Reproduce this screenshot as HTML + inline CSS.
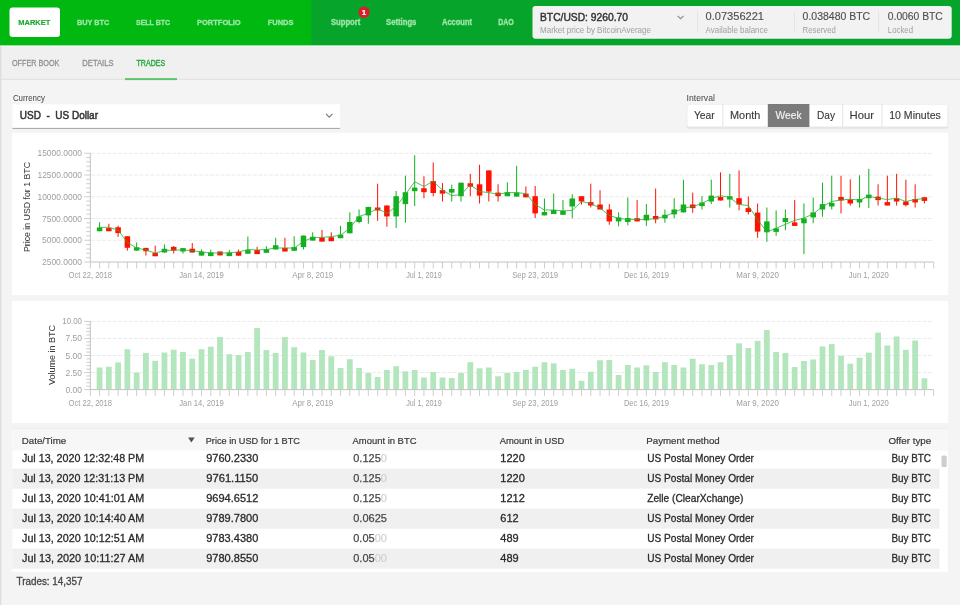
<!DOCTYPE html>
<html><head><meta charset="utf-8"><title>Bisq - Trades</title>
<style>html,body{margin:0;padding:0;background:#f4f4f4;overflow:hidden;} svg{display:block;will-change:transform;} text{font-family:"Liberation Sans", sans-serif;}</style>
</head><body>
<svg width="960" height="605" viewBox="0 0 960 605" font-family='"Liberation Sans", sans-serif'><rect x="0.00" y="0.00" width="960.00" height="605.00" fill="#f4f4f4"/>
<rect x="0.00" y="46.00" width="960.00" height="33.00" fill="#f0f0f0"/>
<rect x="0.00" y="45.00" width="1.30" height="560.00" fill="#dcdcdc"/>
<rect x="0.00" y="0.00" width="960.00" height="45.50" fill="#0db11b"/>
<rect x="0.00" y="0.00" width="311.50" height="45.50" fill="#01b811"/>
<rect x="311.50" y="0.00" width="648.50" height="45.50" fill="#06a42a"/>
<rect x="0.00" y="45.50" width="960.00" height="1.00" fill="#f4fbf4"/>
<rect x="9.5" y="7.5" width="50.5" height="29.5" rx="3" fill="#ffffff"/>
<text x="18.30" y="24.90" font-size="8.0" fill="#18a82c" font-weight="bold" textLength="32.0" lengthAdjust="spacingAndGlyphs" stroke="#18a82c" stroke-width="0.15">MARKET</text>
<text x="77.00" y="24.90" font-size="8.0" fill="#9de6a6" font-weight="bold" textLength="32.3" lengthAdjust="spacingAndGlyphs" stroke="#9de6a6" stroke-width="0.3">BUY BTC</text>
<text x="136.00" y="24.90" font-size="8.0" fill="#9de6a6" font-weight="bold" textLength="34.1" lengthAdjust="spacingAndGlyphs" stroke="#9de6a6" stroke-width="0.3">SELL BTC</text>
<text x="197.00" y="24.90" font-size="8.0" fill="#9de6a6" font-weight="bold" textLength="43.7" lengthAdjust="spacingAndGlyphs" stroke="#9de6a6" stroke-width="0.3">PORTFOLIO</text>
<text x="267.70" y="24.90" font-size="8.0" fill="#9de6a6" font-weight="bold" textLength="25.7" lengthAdjust="spacingAndGlyphs" stroke="#9de6a6" stroke-width="0.3">FUNDS</text>
<text x="331.00" y="25.00" font-size="8.3" fill="#9de6a6" font-weight="bold" textLength="29.3" lengthAdjust="spacingAndGlyphs" stroke="#9de6a6" stroke-width="0.3">Support</text>
<text x="386.00" y="25.00" font-size="8.3" fill="#9de6a6" font-weight="bold" textLength="30.4" lengthAdjust="spacingAndGlyphs" stroke="#9de6a6" stroke-width="0.3">Settings</text>
<text x="442.00" y="25.00" font-size="8.3" fill="#9de6a6" font-weight="bold" textLength="30.0" lengthAdjust="spacingAndGlyphs" stroke="#9de6a6" stroke-width="0.3">Account</text>
<text x="498.20" y="25.00" font-size="8.3" fill="#9de6a6" font-weight="bold" textLength="15.5" lengthAdjust="spacingAndGlyphs" stroke="#9de6a6" stroke-width="0.3">DAO</text>
<circle cx="364" cy="12.3" r="5.7" fill="#d8202c"/>
<text x="364.00" y="15.20" font-size="8" fill="#ffffff" font-weight="bold" text-anchor="middle" stroke="#ffffff" stroke-width="0.2">1</text>
<rect x="532.5" y="6" width="419.2" height="32.8" rx="3" fill="#eef6ef"/>
<rect x="533.3" y="6.8" width="417.6" height="31.2" rx="2.5" fill="#f2f2f2"/>
<text x="540.00" y="20.80" font-size="11.5" fill="#333333" textLength="88.0" lengthAdjust="spacingAndGlyphs" stroke="#333333" stroke-width="0.45">BTC/USD: 9260.70</text>
<text x="540.00" y="32.80" font-size="8.7" fill="#a0a0a0" textLength="111.0" lengthAdjust="spacingAndGlyphs">Market price by BitcoinAverage</text>
<path d="M677.6 15.9 L680.6 18.7 L683.6 15.9" fill="none" stroke="#8a8a8a" stroke-width="1.1"/>
<rect x="697.30" y="11.30" width="0.80" height="20.60" fill="#e0e0e0"/>
<text x="705.60" y="20.40" font-size="11.2" fill="#505050" textLength="58.4" lengthAdjust="spacingAndGlyphs" stroke="#505050" stroke-width="0.15">0.07356221</text>
<text x="705.60" y="32.80" font-size="8.7" fill="#a0a0a0" textLength="62.4" lengthAdjust="spacingAndGlyphs">Available balance</text>
<rect x="794.00" y="11.30" width="0.80" height="20.60" fill="#e0e0e0"/>
<text x="802.60" y="20.40" font-size="11.2" fill="#505050" textLength="67.6" lengthAdjust="spacingAndGlyphs" stroke="#505050" stroke-width="0.15">0.038480 BTC</text>
<text x="802.60" y="32.80" font-size="8.7" fill="#a0a0a0" textLength="33.2" lengthAdjust="spacingAndGlyphs">Reserved</text>
<rect x="878.30" y="11.30" width="0.80" height="20.60" fill="#e0e0e0"/>
<text x="887.80" y="20.40" font-size="11.2" fill="#505050" textLength="55.0" lengthAdjust="spacingAndGlyphs" stroke="#505050" stroke-width="0.15">0.0060 BTC</text>
<text x="887.80" y="32.80" font-size="8.7" fill="#a0a0a0" textLength="25.2" lengthAdjust="spacingAndGlyphs">Locked</text>
<rect x="1.30" y="78.80" width="960.00" height="1.00" fill="#dfdfdf"/>
<text x="11.90" y="66.25" font-size="9.6" fill="#8f8f8f" textLength="47.5" lengthAdjust="spacingAndGlyphs" stroke="#8f8f8f" stroke-width="0.3">OFFER BOOK</text>
<text x="82.30" y="66.25" font-size="9.6" fill="#8f8f8f" textLength="31.2" lengthAdjust="spacingAndGlyphs" stroke="#8f8f8f" stroke-width="0.3">DETAILS</text>
<text x="136.50" y="66.25" font-size="9.6" fill="#23a83c" textLength="28.7" lengthAdjust="spacingAndGlyphs" stroke="#23a83c" stroke-width="0.4">TRADES</text>
<rect x="125.00" y="78.10" width="52.00" height="2.00" fill="#5cc56d"/>
<text x="12.90" y="101.25" font-size="9" fill="#505050" textLength="32.0" lengthAdjust="spacingAndGlyphs" stroke="#505050" stroke-width="0.05">Currency</text>
<rect x="12.50" y="104.40" width="327.50" height="23.60" fill="#ffffff"/>
<rect x="12.50" y="127.90" width="327.50" height="1.00" fill="#a4a4a4"/>
<text x="19.80" y="119.30" font-size="10.9" fill="#333333" textLength="78.2" lengthAdjust="spacingAndGlyphs" stroke="#333333" stroke-width="0.5">USD&#160;&#160;-&#160;&#160;US Dollar</text>
<path d="M326 113.9 L329.25 117.1 L332.5 113.9" fill="none" stroke="#7a7a7a" stroke-width="1.15"/>
<text x="686.60" y="100.80" font-size="9" fill="#505050" textLength="28.3" lengthAdjust="spacingAndGlyphs" stroke="#505050" stroke-width="0.05">Interval</text>
<rect x="686.3" y="104.3" width="262" height="24.5" rx="2.5" fill="#e4e4e4"/>
<rect x="686.6" y="104" width="261.4" height="23" rx="2.5" fill="#ffffff"/>
<rect x="687" y="104.4" width="260.6" height="22.4" rx="2.3" fill="none" stroke="#ebebeb" stroke-width="0.8"/>
<rect x="722.30" y="104.00" width="1.00" height="23.00" fill="#e4e4e4"/>
<rect x="842.20" y="104.00" width="1.00" height="23.00" fill="#e4e4e4"/>
<rect x="881.50" y="104.00" width="1.00" height="23.00" fill="#e4e4e4"/>
<rect x="767.80" y="104.00" width="41.60" height="23.00" fill="#7b7b7b"/>
<text x="693.90" y="118.80" font-size="10.2" fill="#3a3a3a" textLength="20.8" lengthAdjust="spacingAndGlyphs" stroke="#3a3a3a" stroke-width="0.12">Year</text>
<text x="730.00" y="118.80" font-size="10.2" fill="#3a3a3a" textLength="30.3" lengthAdjust="spacingAndGlyphs" stroke="#3a3a3a" stroke-width="0.12">Month</text>
<text x="775.50" y="118.80" font-size="10.2" fill="#f4f4f4" textLength="26.0" lengthAdjust="spacingAndGlyphs" stroke="#f4f4f4" stroke-width="0.15">Week</text>
<text x="817.00" y="118.80" font-size="10.2" fill="#3a3a3a" textLength="18.0" lengthAdjust="spacingAndGlyphs" stroke="#3a3a3a" stroke-width="0.12">Day</text>
<text x="849.50" y="118.80" font-size="10.2" fill="#3a3a3a" textLength="24.5" lengthAdjust="spacingAndGlyphs" stroke="#3a3a3a" stroke-width="0.12">Hour</text>
<text x="889.20" y="118.80" font-size="10.2" fill="#3a3a3a" textLength="51.6" lengthAdjust="spacingAndGlyphs" stroke="#3a3a3a" stroke-width="0.12">10 Minutes</text>
<rect x="12.00" y="132.80" width="936.20" height="162.40" fill="#ffffff"/>
<line x1="91" y1="153.3" x2="933" y2="153.3" stroke="#ececec" stroke-width="1" stroke-dasharray="4 1.4"/>
<line x1="91" y1="175.05" x2="933" y2="175.05" stroke="#ececec" stroke-width="1" stroke-dasharray="4 1.4"/>
<line x1="91" y1="196.8" x2="933" y2="196.8" stroke="#ececec" stroke-width="1" stroke-dasharray="4 1.4"/>
<line x1="91" y1="218.55" x2="933" y2="218.55" stroke="#ececec" stroke-width="1" stroke-dasharray="4 1.4"/>
<line x1="91" y1="240.3" x2="933" y2="240.3" stroke="#ececec" stroke-width="1" stroke-dasharray="4 1.4"/>
<line x1="90.3" y1="153" x2="90.3" y2="262" stroke="#c2c2c2" stroke-width="1"/>
<line x1="90.3" y1="262" x2="933.7" y2="262" stroke="#c2c2c2" stroke-width="1"/>
<line x1="84.3" y1="262.00" x2="90.3" y2="262.00" stroke="#c2c2c2" stroke-width="0.8"/>
<line x1="86.3" y1="257.65" x2="90.3" y2="257.65" stroke="#c2c2c2" stroke-width="0.8"/>
<line x1="86.3" y1="253.30" x2="90.3" y2="253.30" stroke="#c2c2c2" stroke-width="0.8"/>
<line x1="86.3" y1="248.95" x2="90.3" y2="248.95" stroke="#c2c2c2" stroke-width="0.8"/>
<line x1="86.3" y1="244.60" x2="90.3" y2="244.60" stroke="#c2c2c2" stroke-width="0.8"/>
<line x1="84.3" y1="240.25" x2="90.3" y2="240.25" stroke="#c2c2c2" stroke-width="0.8"/>
<line x1="86.3" y1="235.90" x2="90.3" y2="235.90" stroke="#c2c2c2" stroke-width="0.8"/>
<line x1="86.3" y1="231.55" x2="90.3" y2="231.55" stroke="#c2c2c2" stroke-width="0.8"/>
<line x1="86.3" y1="227.20" x2="90.3" y2="227.20" stroke="#c2c2c2" stroke-width="0.8"/>
<line x1="86.3" y1="222.85" x2="90.3" y2="222.85" stroke="#c2c2c2" stroke-width="0.8"/>
<line x1="84.3" y1="218.50" x2="90.3" y2="218.50" stroke="#c2c2c2" stroke-width="0.8"/>
<line x1="86.3" y1="214.15" x2="90.3" y2="214.15" stroke="#c2c2c2" stroke-width="0.8"/>
<line x1="86.3" y1="209.80" x2="90.3" y2="209.80" stroke="#c2c2c2" stroke-width="0.8"/>
<line x1="86.3" y1="205.45" x2="90.3" y2="205.45" stroke="#c2c2c2" stroke-width="0.8"/>
<line x1="86.3" y1="201.10" x2="90.3" y2="201.10" stroke="#c2c2c2" stroke-width="0.8"/>
<line x1="84.3" y1="196.75" x2="90.3" y2="196.75" stroke="#c2c2c2" stroke-width="0.8"/>
<line x1="86.3" y1="192.40" x2="90.3" y2="192.40" stroke="#c2c2c2" stroke-width="0.8"/>
<line x1="86.3" y1="188.05" x2="90.3" y2="188.05" stroke="#c2c2c2" stroke-width="0.8"/>
<line x1="86.3" y1="183.70" x2="90.3" y2="183.70" stroke="#c2c2c2" stroke-width="0.8"/>
<line x1="86.3" y1="179.35" x2="90.3" y2="179.35" stroke="#c2c2c2" stroke-width="0.8"/>
<line x1="84.3" y1="175.00" x2="90.3" y2="175.00" stroke="#c2c2c2" stroke-width="0.8"/>
<line x1="86.3" y1="170.65" x2="90.3" y2="170.65" stroke="#c2c2c2" stroke-width="0.8"/>
<line x1="86.3" y1="166.30" x2="90.3" y2="166.30" stroke="#c2c2c2" stroke-width="0.8"/>
<line x1="86.3" y1="161.95" x2="90.3" y2="161.95" stroke="#c2c2c2" stroke-width="0.8"/>
<line x1="86.3" y1="157.60" x2="90.3" y2="157.60" stroke="#c2c2c2" stroke-width="0.8"/>
<line x1="84.3" y1="153.25" x2="90.3" y2="153.25" stroke="#c2c2c2" stroke-width="0.8"/>
<line x1="90.30" y1="262" x2="90.30" y2="268.5" stroke="#c2c2c2" stroke-width="0.8"/>
<line x1="99.57" y1="262" x2="99.57" y2="268.5" stroke="#c2c2c2" stroke-width="0.8"/>
<line x1="108.84" y1="262" x2="108.84" y2="268.5" stroke="#c2c2c2" stroke-width="0.8"/>
<line x1="118.10" y1="262" x2="118.10" y2="268.5" stroke="#c2c2c2" stroke-width="0.8"/>
<line x1="127.37" y1="262" x2="127.37" y2="268.5" stroke="#c2c2c2" stroke-width="0.8"/>
<line x1="136.64" y1="262" x2="136.64" y2="268.5" stroke="#c2c2c2" stroke-width="0.8"/>
<line x1="145.91" y1="262" x2="145.91" y2="268.5" stroke="#c2c2c2" stroke-width="0.8"/>
<line x1="155.18" y1="262" x2="155.18" y2="268.5" stroke="#c2c2c2" stroke-width="0.8"/>
<line x1="164.44" y1="262" x2="164.44" y2="268.5" stroke="#c2c2c2" stroke-width="0.8"/>
<line x1="173.71" y1="262" x2="173.71" y2="268.5" stroke="#c2c2c2" stroke-width="0.8"/>
<line x1="182.98" y1="262" x2="182.98" y2="268.5" stroke="#c2c2c2" stroke-width="0.8"/>
<line x1="192.25" y1="262" x2="192.25" y2="268.5" stroke="#c2c2c2" stroke-width="0.8"/>
<line x1="201.52" y1="262" x2="201.52" y2="268.5" stroke="#c2c2c2" stroke-width="0.8"/>
<line x1="210.78" y1="262" x2="210.78" y2="268.5" stroke="#c2c2c2" stroke-width="0.8"/>
<line x1="220.05" y1="262" x2="220.05" y2="268.5" stroke="#c2c2c2" stroke-width="0.8"/>
<line x1="229.32" y1="262" x2="229.32" y2="268.5" stroke="#c2c2c2" stroke-width="0.8"/>
<line x1="238.59" y1="262" x2="238.59" y2="268.5" stroke="#c2c2c2" stroke-width="0.8"/>
<line x1="247.86" y1="262" x2="247.86" y2="268.5" stroke="#c2c2c2" stroke-width="0.8"/>
<line x1="257.12" y1="262" x2="257.12" y2="268.5" stroke="#c2c2c2" stroke-width="0.8"/>
<line x1="266.39" y1="262" x2="266.39" y2="268.5" stroke="#c2c2c2" stroke-width="0.8"/>
<line x1="275.66" y1="262" x2="275.66" y2="268.5" stroke="#c2c2c2" stroke-width="0.8"/>
<line x1="284.93" y1="262" x2="284.93" y2="268.5" stroke="#c2c2c2" stroke-width="0.8"/>
<line x1="294.20" y1="262" x2="294.20" y2="268.5" stroke="#c2c2c2" stroke-width="0.8"/>
<line x1="303.46" y1="262" x2="303.46" y2="268.5" stroke="#c2c2c2" stroke-width="0.8"/>
<line x1="312.73" y1="262" x2="312.73" y2="268.5" stroke="#c2c2c2" stroke-width="0.8"/>
<line x1="322.00" y1="262" x2="322.00" y2="268.5" stroke="#c2c2c2" stroke-width="0.8"/>
<line x1="331.27" y1="262" x2="331.27" y2="268.5" stroke="#c2c2c2" stroke-width="0.8"/>
<line x1="340.54" y1="262" x2="340.54" y2="268.5" stroke="#c2c2c2" stroke-width="0.8"/>
<line x1="349.80" y1="262" x2="349.80" y2="268.5" stroke="#c2c2c2" stroke-width="0.8"/>
<line x1="359.07" y1="262" x2="359.07" y2="268.5" stroke="#c2c2c2" stroke-width="0.8"/>
<line x1="368.34" y1="262" x2="368.34" y2="268.5" stroke="#c2c2c2" stroke-width="0.8"/>
<line x1="377.61" y1="262" x2="377.61" y2="268.5" stroke="#c2c2c2" stroke-width="0.8"/>
<line x1="386.88" y1="262" x2="386.88" y2="268.5" stroke="#c2c2c2" stroke-width="0.8"/>
<line x1="396.14" y1="262" x2="396.14" y2="268.5" stroke="#c2c2c2" stroke-width="0.8"/>
<line x1="405.41" y1="262" x2="405.41" y2="268.5" stroke="#c2c2c2" stroke-width="0.8"/>
<line x1="414.68" y1="262" x2="414.68" y2="268.5" stroke="#c2c2c2" stroke-width="0.8"/>
<line x1="423.95" y1="262" x2="423.95" y2="268.5" stroke="#c2c2c2" stroke-width="0.8"/>
<line x1="433.22" y1="262" x2="433.22" y2="268.5" stroke="#c2c2c2" stroke-width="0.8"/>
<line x1="442.48" y1="262" x2="442.48" y2="268.5" stroke="#c2c2c2" stroke-width="0.8"/>
<line x1="451.75" y1="262" x2="451.75" y2="268.5" stroke="#c2c2c2" stroke-width="0.8"/>
<line x1="461.02" y1="262" x2="461.02" y2="268.5" stroke="#c2c2c2" stroke-width="0.8"/>
<line x1="470.29" y1="262" x2="470.29" y2="268.5" stroke="#c2c2c2" stroke-width="0.8"/>
<line x1="479.56" y1="262" x2="479.56" y2="268.5" stroke="#c2c2c2" stroke-width="0.8"/>
<line x1="488.82" y1="262" x2="488.82" y2="268.5" stroke="#c2c2c2" stroke-width="0.8"/>
<line x1="498.09" y1="262" x2="498.09" y2="268.5" stroke="#c2c2c2" stroke-width="0.8"/>
<line x1="507.36" y1="262" x2="507.36" y2="268.5" stroke="#c2c2c2" stroke-width="0.8"/>
<line x1="516.63" y1="262" x2="516.63" y2="268.5" stroke="#c2c2c2" stroke-width="0.8"/>
<line x1="525.90" y1="262" x2="525.90" y2="268.5" stroke="#c2c2c2" stroke-width="0.8"/>
<line x1="535.16" y1="262" x2="535.16" y2="268.5" stroke="#c2c2c2" stroke-width="0.8"/>
<line x1="544.43" y1="262" x2="544.43" y2="268.5" stroke="#c2c2c2" stroke-width="0.8"/>
<line x1="553.70" y1="262" x2="553.70" y2="268.5" stroke="#c2c2c2" stroke-width="0.8"/>
<line x1="562.97" y1="262" x2="562.97" y2="268.5" stroke="#c2c2c2" stroke-width="0.8"/>
<line x1="572.24" y1="262" x2="572.24" y2="268.5" stroke="#c2c2c2" stroke-width="0.8"/>
<line x1="581.50" y1="262" x2="581.50" y2="268.5" stroke="#c2c2c2" stroke-width="0.8"/>
<line x1="590.77" y1="262" x2="590.77" y2="268.5" stroke="#c2c2c2" stroke-width="0.8"/>
<line x1="600.04" y1="262" x2="600.04" y2="268.5" stroke="#c2c2c2" stroke-width="0.8"/>
<line x1="609.31" y1="262" x2="609.31" y2="268.5" stroke="#c2c2c2" stroke-width="0.8"/>
<line x1="618.58" y1="262" x2="618.58" y2="268.5" stroke="#c2c2c2" stroke-width="0.8"/>
<line x1="627.84" y1="262" x2="627.84" y2="268.5" stroke="#c2c2c2" stroke-width="0.8"/>
<line x1="637.11" y1="262" x2="637.11" y2="268.5" stroke="#c2c2c2" stroke-width="0.8"/>
<line x1="646.38" y1="262" x2="646.38" y2="268.5" stroke="#c2c2c2" stroke-width="0.8"/>
<line x1="655.65" y1="262" x2="655.65" y2="268.5" stroke="#c2c2c2" stroke-width="0.8"/>
<line x1="664.92" y1="262" x2="664.92" y2="268.5" stroke="#c2c2c2" stroke-width="0.8"/>
<line x1="674.18" y1="262" x2="674.18" y2="268.5" stroke="#c2c2c2" stroke-width="0.8"/>
<line x1="683.45" y1="262" x2="683.45" y2="268.5" stroke="#c2c2c2" stroke-width="0.8"/>
<line x1="692.72" y1="262" x2="692.72" y2="268.5" stroke="#c2c2c2" stroke-width="0.8"/>
<line x1="701.99" y1="262" x2="701.99" y2="268.5" stroke="#c2c2c2" stroke-width="0.8"/>
<line x1="711.26" y1="262" x2="711.26" y2="268.5" stroke="#c2c2c2" stroke-width="0.8"/>
<line x1="720.52" y1="262" x2="720.52" y2="268.5" stroke="#c2c2c2" stroke-width="0.8"/>
<line x1="729.79" y1="262" x2="729.79" y2="268.5" stroke="#c2c2c2" stroke-width="0.8"/>
<line x1="739.06" y1="262" x2="739.06" y2="268.5" stroke="#c2c2c2" stroke-width="0.8"/>
<line x1="748.33" y1="262" x2="748.33" y2="268.5" stroke="#c2c2c2" stroke-width="0.8"/>
<line x1="757.60" y1="262" x2="757.60" y2="268.5" stroke="#c2c2c2" stroke-width="0.8"/>
<line x1="766.86" y1="262" x2="766.86" y2="268.5" stroke="#c2c2c2" stroke-width="0.8"/>
<line x1="776.13" y1="262" x2="776.13" y2="268.5" stroke="#c2c2c2" stroke-width="0.8"/>
<line x1="785.40" y1="262" x2="785.40" y2="268.5" stroke="#c2c2c2" stroke-width="0.8"/>
<line x1="794.67" y1="262" x2="794.67" y2="268.5" stroke="#c2c2c2" stroke-width="0.8"/>
<line x1="803.94" y1="262" x2="803.94" y2="268.5" stroke="#c2c2c2" stroke-width="0.8"/>
<line x1="813.20" y1="262" x2="813.20" y2="268.5" stroke="#c2c2c2" stroke-width="0.8"/>
<line x1="822.47" y1="262" x2="822.47" y2="268.5" stroke="#c2c2c2" stroke-width="0.8"/>
<line x1="831.74" y1="262" x2="831.74" y2="268.5" stroke="#c2c2c2" stroke-width="0.8"/>
<line x1="841.01" y1="262" x2="841.01" y2="268.5" stroke="#c2c2c2" stroke-width="0.8"/>
<line x1="850.28" y1="262" x2="850.28" y2="268.5" stroke="#c2c2c2" stroke-width="0.8"/>
<line x1="859.54" y1="262" x2="859.54" y2="268.5" stroke="#c2c2c2" stroke-width="0.8"/>
<line x1="868.81" y1="262" x2="868.81" y2="268.5" stroke="#c2c2c2" stroke-width="0.8"/>
<line x1="878.08" y1="262" x2="878.08" y2="268.5" stroke="#c2c2c2" stroke-width="0.8"/>
<line x1="887.35" y1="262" x2="887.35" y2="268.5" stroke="#c2c2c2" stroke-width="0.8"/>
<line x1="896.62" y1="262" x2="896.62" y2="268.5" stroke="#c2c2c2" stroke-width="0.8"/>
<line x1="905.88" y1="262" x2="905.88" y2="268.5" stroke="#c2c2c2" stroke-width="0.8"/>
<line x1="915.15" y1="262" x2="915.15" y2="268.5" stroke="#c2c2c2" stroke-width="0.8"/>
<line x1="924.42" y1="262" x2="924.42" y2="268.5" stroke="#c2c2c2" stroke-width="0.8"/>
<line x1="933.69" y1="262" x2="933.69" y2="268.5" stroke="#c2c2c2" stroke-width="0.8"/>
<text x="82.00" y="265.00" font-size="8.6" fill="#9e9e9e" textLength="40.0" lengthAdjust="spacingAndGlyphs" text-anchor="end">2500.0000</text>
<text x="82.00" y="243.25" font-size="8.6" fill="#9e9e9e" textLength="40.0" lengthAdjust="spacingAndGlyphs" text-anchor="end">5000.0000</text>
<text x="82.00" y="221.50" font-size="8.6" fill="#9e9e9e" textLength="40.0" lengthAdjust="spacingAndGlyphs" text-anchor="end">7500.0000</text>
<text x="82.00" y="199.75" font-size="8.6" fill="#9e9e9e" textLength="44.5" lengthAdjust="spacingAndGlyphs" text-anchor="end">10000.0000</text>
<text x="82.00" y="178.00" font-size="8.6" fill="#9e9e9e" textLength="44.5" lengthAdjust="spacingAndGlyphs" text-anchor="end">12500.0000</text>
<text x="82.00" y="156.25" font-size="8.6" fill="#9e9e9e" textLength="44.5" lengthAdjust="spacingAndGlyphs" text-anchor="end">15000.0000</text>
<text x="90.30" y="277.90" font-size="8.6" fill="#a0a0a0" textLength="43.4" lengthAdjust="spacingAndGlyphs" text-anchor="middle">Oct 22, 2018</text>
<text x="201.52" y="277.90" font-size="8.6" fill="#a0a0a0" textLength="44.5" lengthAdjust="spacingAndGlyphs" text-anchor="middle">Jan 14, 2019</text>
<text x="312.73" y="277.90" font-size="8.6" fill="#a0a0a0" textLength="41.0" lengthAdjust="spacingAndGlyphs" text-anchor="middle">Apr 8, 2019</text>
<text x="423.95" y="277.90" font-size="8.6" fill="#a0a0a0" textLength="35.5" lengthAdjust="spacingAndGlyphs" text-anchor="middle">Jul 1, 2019</text>
<text x="535.16" y="277.90" font-size="8.6" fill="#a0a0a0" textLength="46.0" lengthAdjust="spacingAndGlyphs" text-anchor="middle">Sep 23, 2019</text>
<text x="646.38" y="277.90" font-size="8.6" fill="#a0a0a0" textLength="45.0" lengthAdjust="spacingAndGlyphs" text-anchor="middle">Dec 16, 2019</text>
<text x="757.60" y="277.90" font-size="8.6" fill="#a0a0a0" textLength="42.5" lengthAdjust="spacingAndGlyphs" text-anchor="middle">Mar 9, 2020</text>
<text x="868.81" y="277.90" font-size="8.6" fill="#a0a0a0" textLength="40.0" lengthAdjust="spacingAndGlyphs" text-anchor="middle">Jun 1, 2020</text>
<text x="0" y="0" font-size="9.6" fill="#3c3c3c" stroke="#3c3c3c" stroke-width="0.05" text-anchor="middle" textLength="90" lengthAdjust="spacingAndGlyphs" transform="translate(30.3 207) rotate(-90)">Price in USD for 1 BTC</text>
<line x1="99.57" y1="222.25" x2="99.57" y2="231.25" stroke="#12b01e" stroke-width="1"/>
<rect x="96.82" y="227.50" width="5.50" height="3.75" fill="#12b01e"/>
<line x1="108.84" y1="223.75" x2="108.84" y2="231.25" stroke="#ff1200" stroke-width="1"/>
<rect x="106.09" y="228.10" width="5.50" height="3.15" fill="#ff1200"/>
<line x1="118.10" y1="225.6" x2="118.10" y2="236.9" stroke="#ff1200" stroke-width="1"/>
<rect x="115.35" y="227.25" width="5.50" height="5.85" fill="#ff1200"/>
<line x1="127.37" y1="236.25" x2="127.37" y2="250.6" stroke="#ff1200" stroke-width="1"/>
<rect x="124.62" y="236.25" width="5.50" height="11.50" fill="#ff1200"/>
<line x1="136.64" y1="242.5" x2="136.64" y2="250.6" stroke="#12b01e" stroke-width="1"/>
<rect x="133.89" y="247.25" width="5.50" height="3.35" fill="#12b01e"/>
<line x1="145.91" y1="247.9" x2="145.91" y2="255.6" stroke="#ff1200" stroke-width="1"/>
<rect x="143.16" y="247.90" width="5.50" height="3.35" fill="#ff1200"/>
<line x1="155.18" y1="245.6" x2="155.18" y2="256.25" stroke="#ff1200" stroke-width="1"/>
<rect x="152.43" y="253.10" width="5.50" height="3.15" fill="#ff1200"/>
<line x1="164.44" y1="244.4" x2="164.44" y2="252.5" stroke="#12b01e" stroke-width="1"/>
<rect x="161.69" y="248.75" width="5.50" height="3.75" fill="#12b01e"/>
<line x1="173.71" y1="246" x2="173.71" y2="253.5" stroke="#ff1200" stroke-width="1"/>
<rect x="170.96" y="246.90" width="5.50" height="3.70" fill="#ff1200"/>
<line x1="182.98" y1="248.1" x2="182.98" y2="253.5" stroke="#12b01e" stroke-width="1"/>
<rect x="180.23" y="248.10" width="5.50" height="3.40" fill="#12b01e"/>
<line x1="192.25" y1="243.1" x2="192.25" y2="252.5" stroke="#ff1200" stroke-width="1"/>
<rect x="189.50" y="248.75" width="5.50" height="3.75" fill="#ff1200"/>
<line x1="201.52" y1="249.4" x2="201.52" y2="255.6" stroke="#12b01e" stroke-width="1"/>
<rect x="198.77" y="251.50" width="5.50" height="4.10" fill="#12b01e"/>
<line x1="210.78" y1="249.7" x2="210.78" y2="256.1" stroke="#12b01e" stroke-width="1"/>
<rect x="208.03" y="252.40" width="5.50" height="3.70" fill="#12b01e"/>
<line x1="220.05" y1="251.5" x2="220.05" y2="255.4" stroke="#ff1200" stroke-width="1"/>
<rect x="217.30" y="251.50" width="5.50" height="3.90" fill="#ff1200"/>
<line x1="229.32" y1="250" x2="229.32" y2="256.1" stroke="#12b01e" stroke-width="1"/>
<rect x="226.57" y="252.40" width="5.50" height="3.70" fill="#12b01e"/>
<line x1="238.59" y1="249.5" x2="238.59" y2="255.7" stroke="#ff1200" stroke-width="1"/>
<rect x="235.84" y="251.80" width="5.50" height="3.90" fill="#ff1200"/>
<line x1="247.86" y1="236.5" x2="247.86" y2="253.7" stroke="#12b01e" stroke-width="1"/>
<rect x="245.11" y="250.10" width="5.50" height="3.60" fill="#12b01e"/>
<line x1="257.12" y1="246.8" x2="257.12" y2="254.1" stroke="#ff1200" stroke-width="1"/>
<rect x="254.37" y="250.10" width="5.50" height="4.00" fill="#ff1200"/>
<line x1="266.39" y1="246.2" x2="266.39" y2="252.8" stroke="#12b01e" stroke-width="1"/>
<rect x="263.64" y="249.20" width="5.50" height="3.60" fill="#12b01e"/>
<line x1="275.66" y1="237.8" x2="275.66" y2="249.5" stroke="#12b01e" stroke-width="1"/>
<rect x="272.91" y="245.20" width="5.50" height="4.30" fill="#12b01e"/>
<line x1="284.93" y1="237.8" x2="284.93" y2="251.5" stroke="#ff1200" stroke-width="1"/>
<rect x="282.18" y="247.90" width="5.50" height="3.60" fill="#ff1200"/>
<line x1="294.20" y1="236.3" x2="294.20" y2="250.8" stroke="#12b01e" stroke-width="1"/>
<rect x="291.45" y="247.10" width="5.50" height="3.70" fill="#12b01e"/>
<line x1="303.46" y1="235.6" x2="303.46" y2="249.5" stroke="#12b01e" stroke-width="1"/>
<rect x="300.71" y="235.60" width="5.50" height="11.50" fill="#12b01e"/>
<line x1="312.73" y1="232.3" x2="312.73" y2="240.6" stroke="#12b01e" stroke-width="1"/>
<rect x="309.98" y="236.80" width="5.50" height="3.80" fill="#12b01e"/>
<line x1="322.00" y1="229.9" x2="322.00" y2="241.6" stroke="#ff1200" stroke-width="1"/>
<rect x="319.25" y="237.60" width="5.50" height="4.00" fill="#ff1200"/>
<line x1="331.27" y1="232.3" x2="331.27" y2="241.2" stroke="#ff1200" stroke-width="1"/>
<rect x="328.52" y="237.20" width="5.50" height="4.00" fill="#ff1200"/>
<line x1="340.54" y1="225.9" x2="340.54" y2="238.2" stroke="#12b01e" stroke-width="1"/>
<rect x="337.79" y="234.60" width="5.50" height="3.60" fill="#12b01e"/>
<line x1="349.80" y1="212.4" x2="349.80" y2="233.3" stroke="#12b01e" stroke-width="1"/>
<rect x="347.05" y="222.00" width="5.50" height="11.30" fill="#12b01e"/>
<line x1="359.07" y1="209.5" x2="359.07" y2="223.3" stroke="#12b01e" stroke-width="1"/>
<rect x="356.32" y="216.40" width="5.50" height="5.60" fill="#12b01e"/>
<line x1="368.34" y1="206.9" x2="368.34" y2="223.7" stroke="#12b01e" stroke-width="1"/>
<rect x="365.59" y="206.90" width="5.50" height="8.50" fill="#12b01e"/>
<line x1="377.61" y1="183.7" x2="377.61" y2="220.8" stroke="#ff1200" stroke-width="1"/>
<rect x="374.86" y="207.50" width="5.50" height="3.00" fill="#ff1200"/>
<line x1="386.88" y1="205.5" x2="386.88" y2="226.7" stroke="#ff1200" stroke-width="1"/>
<rect x="384.13" y="205.50" width="5.50" height="10.90" fill="#ff1200"/>
<line x1="396.14" y1="191" x2="396.14" y2="227.9" stroke="#12b01e" stroke-width="1"/>
<rect x="393.39" y="196.20" width="5.50" height="20.20" fill="#12b01e"/>
<line x1="405.41" y1="175.7" x2="405.41" y2="222.7" stroke="#12b01e" stroke-width="1"/>
<rect x="402.66" y="192.20" width="5.50" height="11.90" fill="#12b01e"/>
<line x1="414.68" y1="155.3" x2="414.68" y2="206.1" stroke="#12b01e" stroke-width="1"/>
<rect x="411.93" y="187.60" width="5.50" height="3.60" fill="#12b01e"/>
<line x1="423.95" y1="176.2" x2="423.95" y2="198.3" stroke="#ff1200" stroke-width="1"/>
<rect x="421.20" y="188.20" width="5.50" height="4.00" fill="#ff1200"/>
<line x1="433.22" y1="162.5" x2="433.22" y2="196.2" stroke="#ff1200" stroke-width="1"/>
<rect x="430.47" y="181.10" width="5.50" height="11.90" fill="#ff1200"/>
<line x1="442.48" y1="183.1" x2="442.48" y2="201.5" stroke="#ff1200" stroke-width="1"/>
<rect x="439.73" y="190.20" width="5.50" height="3.40" fill="#ff1200"/>
<line x1="451.75" y1="184.7" x2="451.75" y2="201.5" stroke="#12b01e" stroke-width="1"/>
<rect x="449.00" y="189.00" width="5.50" height="3.60" fill="#12b01e"/>
<line x1="461.02" y1="182.7" x2="461.02" y2="201.5" stroke="#12b01e" stroke-width="1"/>
<rect x="458.27" y="182.70" width="5.50" height="13.50" fill="#12b01e"/>
<line x1="470.29" y1="173.8" x2="470.29" y2="196.2" stroke="#ff1200" stroke-width="1"/>
<rect x="467.54" y="183.30" width="5.50" height="3.40" fill="#ff1200"/>
<line x1="479.56" y1="164.8" x2="479.56" y2="203.5" stroke="#ff1200" stroke-width="1"/>
<rect x="476.81" y="184.30" width="5.50" height="11.30" fill="#ff1200"/>
<line x1="488.82" y1="170.4" x2="488.82" y2="201.5" stroke="#ff1200" stroke-width="1"/>
<rect x="486.07" y="170.40" width="5.50" height="21.20" fill="#ff1200"/>
<line x1="498.09" y1="184.3" x2="498.09" y2="201.5" stroke="#ff1200" stroke-width="1"/>
<rect x="495.34" y="192.60" width="5.50" height="3.60" fill="#ff1200"/>
<line x1="507.36" y1="182.3" x2="507.36" y2="196.2" stroke="#12b01e" stroke-width="1"/>
<rect x="504.61" y="192.20" width="5.50" height="4.00" fill="#12b01e"/>
<line x1="516.63" y1="165.8" x2="516.63" y2="196.6" stroke="#12b01e" stroke-width="1"/>
<rect x="513.88" y="192.60" width="5.50" height="4.00" fill="#12b01e"/>
<line x1="525.90" y1="186.5" x2="525.90" y2="197.3" stroke="#ff1200" stroke-width="1"/>
<rect x="523.15" y="193.60" width="5.50" height="3.70" fill="#ff1200"/>
<line x1="535.16" y1="186" x2="535.16" y2="218" stroke="#ff1200" stroke-width="1"/>
<rect x="532.41" y="196.20" width="5.50" height="17.20" fill="#ff1200"/>
<line x1="544.43" y1="198.5" x2="544.43" y2="215.4" stroke="#12b01e" stroke-width="1"/>
<rect x="541.68" y="212.00" width="5.50" height="3.40" fill="#12b01e"/>
<line x1="553.70" y1="193.6" x2="553.70" y2="214" stroke="#12b01e" stroke-width="1"/>
<rect x="550.95" y="210.00" width="5.50" height="4.00" fill="#12b01e"/>
<line x1="562.97" y1="200.1" x2="562.97" y2="214.8" stroke="#12b01e" stroke-width="1"/>
<rect x="560.22" y="211.00" width="5.50" height="3.80" fill="#12b01e"/>
<line x1="572.24" y1="194.2" x2="572.24" y2="218.4" stroke="#12b01e" stroke-width="1"/>
<rect x="569.49" y="198.50" width="5.50" height="8.00" fill="#12b01e"/>
<line x1="581.50" y1="196.2" x2="581.50" y2="204.5" stroke="#ff1200" stroke-width="1"/>
<rect x="578.75" y="196.20" width="5.50" height="5.30" fill="#ff1200"/>
<line x1="590.77" y1="183.7" x2="590.77" y2="207.5" stroke="#ff1200" stroke-width="1"/>
<rect x="588.02" y="202.10" width="5.50" height="3.40" fill="#ff1200"/>
<line x1="600.04" y1="190.2" x2="600.04" y2="209.5" stroke="#ff1200" stroke-width="1"/>
<rect x="597.29" y="204.50" width="5.50" height="5.00" fill="#ff1200"/>
<line x1="609.31" y1="204.1" x2="609.31" y2="224.7" stroke="#ff1200" stroke-width="1"/>
<rect x="606.56" y="209.50" width="5.50" height="11.90" fill="#ff1200"/>
<line x1="618.58" y1="212.4" x2="618.58" y2="226.3" stroke="#12b01e" stroke-width="1"/>
<rect x="615.83" y="217.40" width="5.50" height="4.00" fill="#12b01e"/>
<line x1="627.84" y1="197.6" x2="627.84" y2="225.3" stroke="#12b01e" stroke-width="1"/>
<rect x="625.09" y="218.00" width="5.50" height="4.00" fill="#12b01e"/>
<line x1="637.11" y1="200.1" x2="637.11" y2="221.4" stroke="#ff1200" stroke-width="1"/>
<rect x="634.36" y="218.20" width="5.50" height="3.20" fill="#ff1200"/>
<line x1="646.38" y1="204.1" x2="646.38" y2="225.9" stroke="#12b01e" stroke-width="1"/>
<rect x="643.63" y="214.80" width="5.50" height="5.60" fill="#12b01e"/>
<line x1="655.65" y1="188.6" x2="655.65" y2="223.3" stroke="#ff1200" stroke-width="1"/>
<rect x="652.90" y="216.00" width="5.50" height="3.40" fill="#ff1200"/>
<line x1="664.92" y1="209.5" x2="664.92" y2="222.7" stroke="#12b01e" stroke-width="1"/>
<rect x="662.17" y="214.80" width="5.50" height="3.60" fill="#12b01e"/>
<line x1="674.18" y1="198.2" x2="674.18" y2="218.4" stroke="#12b01e" stroke-width="1"/>
<rect x="671.43" y="209.50" width="5.50" height="4.90" fill="#12b01e"/>
<line x1="683.45" y1="179.7" x2="683.45" y2="212.4" stroke="#12b01e" stroke-width="1"/>
<rect x="680.70" y="204.50" width="5.50" height="7.90" fill="#12b01e"/>
<line x1="692.72" y1="192.6" x2="692.72" y2="212.8" stroke="#ff1200" stroke-width="1"/>
<rect x="689.97" y="204.50" width="5.50" height="3.60" fill="#ff1200"/>
<line x1="701.99" y1="196.2" x2="701.99" y2="209.5" stroke="#12b01e" stroke-width="1"/>
<rect x="699.24" y="202.50" width="5.50" height="3.60" fill="#12b01e"/>
<line x1="711.26" y1="179.7" x2="711.26" y2="204.1" stroke="#12b01e" stroke-width="1"/>
<rect x="708.51" y="195.60" width="5.50" height="5.90" fill="#12b01e"/>
<line x1="720.52" y1="172.4" x2="720.52" y2="200.5" stroke="#ff1200" stroke-width="1"/>
<rect x="717.77" y="197.00" width="5.50" height="3.50" fill="#ff1200"/>
<line x1="729.79" y1="173.8" x2="729.79" y2="207.5" stroke="#12b01e" stroke-width="1"/>
<rect x="727.04" y="196.20" width="5.50" height="3.30" fill="#12b01e"/>
<line x1="739.06" y1="170.4" x2="739.06" y2="210.4" stroke="#ff1200" stroke-width="1"/>
<rect x="736.31" y="198.20" width="5.50" height="6.30" fill="#ff1200"/>
<line x1="748.33" y1="196.4" x2="748.33" y2="214.4" stroke="#ff1200" stroke-width="1"/>
<rect x="745.58" y="208.10" width="5.50" height="3.90" fill="#ff1200"/>
<line x1="757.60" y1="203.5" x2="757.60" y2="237.8" stroke="#ff1200" stroke-width="1"/>
<rect x="754.85" y="212.60" width="5.50" height="19.00" fill="#ff1200"/>
<line x1="766.86" y1="207.5" x2="766.86" y2="241.8" stroke="#12b01e" stroke-width="1"/>
<rect x="764.11" y="221.40" width="5.50" height="10.90" fill="#12b01e"/>
<line x1="776.13" y1="210.4" x2="776.13" y2="235.8" stroke="#12b01e" stroke-width="1"/>
<rect x="773.38" y="228.30" width="5.50" height="3.60" fill="#12b01e"/>
<line x1="785.40" y1="209.5" x2="785.40" y2="230.3" stroke="#12b01e" stroke-width="1"/>
<rect x="782.65" y="218.00" width="5.50" height="4.00" fill="#12b01e"/>
<line x1="794.67" y1="200.1" x2="794.67" y2="225.9" stroke="#ff1200" stroke-width="1"/>
<rect x="791.92" y="222.40" width="5.50" height="3.50" fill="#ff1200"/>
<line x1="803.94" y1="203.5" x2="803.94" y2="254.1" stroke="#12b01e" stroke-width="1"/>
<rect x="801.19" y="218.40" width="5.50" height="4.90" fill="#12b01e"/>
<line x1="813.20" y1="197.6" x2="813.20" y2="223.3" stroke="#12b01e" stroke-width="1"/>
<rect x="810.45" y="212.40" width="5.50" height="5.00" fill="#12b01e"/>
<line x1="822.47" y1="182.7" x2="822.47" y2="216.8" stroke="#12b01e" stroke-width="1"/>
<rect x="819.72" y="204.10" width="5.50" height="5.40" fill="#12b01e"/>
<line x1="831.74" y1="175.7" x2="831.74" y2="209.5" stroke="#12b01e" stroke-width="1"/>
<rect x="828.99" y="202.90" width="5.50" height="3.60" fill="#12b01e"/>
<line x1="841.01" y1="175.7" x2="841.01" y2="213.4" stroke="#ff1200" stroke-width="1"/>
<rect x="838.26" y="197.00" width="5.50" height="3.50" fill="#ff1200"/>
<line x1="850.28" y1="179.4" x2="850.28" y2="205.5" stroke="#ff1200" stroke-width="1"/>
<rect x="847.53" y="199.50" width="5.50" height="4.00" fill="#ff1200"/>
<line x1="859.54" y1="175.4" x2="859.54" y2="207.5" stroke="#12b01e" stroke-width="1"/>
<rect x="856.79" y="199.00" width="5.50" height="3.50" fill="#12b01e"/>
<line x1="868.81" y1="168.8" x2="868.81" y2="208.1" stroke="#12b01e" stroke-width="1"/>
<rect x="866.06" y="194.60" width="5.50" height="3.60" fill="#12b01e"/>
<line x1="878.08" y1="184.3" x2="878.08" y2="205.5" stroke="#ff1200" stroke-width="1"/>
<rect x="875.33" y="196.60" width="5.50" height="3.50" fill="#ff1200"/>
<line x1="887.35" y1="175.7" x2="887.35" y2="205.5" stroke="#ff1200" stroke-width="1"/>
<rect x="884.60" y="202.10" width="5.50" height="3.40" fill="#ff1200"/>
<line x1="896.62" y1="173.8" x2="896.62" y2="205.5" stroke="#ff1200" stroke-width="1"/>
<rect x="893.87" y="198.20" width="5.50" height="3.30" fill="#ff1200"/>
<line x1="905.88" y1="179.7" x2="905.88" y2="206.5" stroke="#ff1200" stroke-width="1"/>
<rect x="903.13" y="201.50" width="5.50" height="3.60" fill="#ff1200"/>
<line x1="915.15" y1="184.3" x2="915.15" y2="207.5" stroke="#ff1200" stroke-width="1"/>
<rect x="912.40" y="199.00" width="5.50" height="3.50" fill="#ff1200"/>
<line x1="924.42" y1="197.2" x2="924.42" y2="203.5" stroke="#ff1200" stroke-width="1"/>
<rect x="921.67" y="197.20" width="5.50" height="3.70" fill="#ff1200"/>
<polyline points="99.57,227.3 108.84,227.3 118.10,230 127.37,242.5 136.64,248 145.91,250 155.18,253 164.44,250.6 173.71,250 182.98,250 192.25,250.6 201.52,252 210.78,253 220.05,253 229.32,253 238.59,252 247.86,249.5 257.12,250 266.39,249.5 275.66,248 284.93,248 294.20,248 303.46,241.5 312.73,237.4 322.00,237.4 331.27,236.6 340.54,235.2 349.80,228.3 359.07,216.4 368.34,213.4 377.61,208.5 386.88,213.4 396.14,206.5 405.41,194.6 414.68,181.7 423.95,186.5 433.22,181.1 442.48,190.2 451.75,195.6 461.02,194.6 470.29,184.7 479.56,191.6 488.82,192.6 498.09,194.2 507.36,192.6 516.63,192.6 525.90,193.6 535.16,204.5 544.43,210 553.70,210 562.97,210.8 572.24,210.4 581.50,201.5 590.77,203.5 600.04,208.1 609.31,215.4 618.58,218.4 627.84,219.4 637.11,219.4 646.38,219.7 655.65,218.4 664.92,216.4 674.18,212.4 683.45,208.1 692.72,206.5 701.99,203.5 711.26,198.5 720.52,195.6 729.79,197.6 739.06,204.5 748.33,205.5 757.60,219.8 766.86,231.9 776.13,228.3 785.40,224.3 794.67,220.4 803.94,218 813.20,214 822.47,206.5 831.74,201.5 841.01,200 850.28,199.2 859.54,200.1 868.81,196.3 878.08,198.2 887.35,199.5 896.62,198.2 905.88,201.5 915.15,199.5 924.42,198.5" fill="none" stroke="rgba(37,177,53,0.8)" stroke-width="1" stroke-linejoin="round"/>
<rect x="12.00" y="301.00" width="936.20" height="122.00" fill="#ffffff"/>
<line x1="91" y1="321.4" x2="933" y2="321.4" stroke="#ececec" stroke-width="1" stroke-dasharray="4 1.4"/>
<line x1="91" y1="338.45" x2="933" y2="338.45" stroke="#ececec" stroke-width="1" stroke-dasharray="4 1.4"/>
<line x1="91" y1="355.5" x2="933" y2="355.5" stroke="#ececec" stroke-width="1" stroke-dasharray="4 1.4"/>
<line x1="91" y1="372.55" x2="933" y2="372.55" stroke="#ececec" stroke-width="1" stroke-dasharray="4 1.4"/>
<line x1="90.3" y1="321" x2="90.3" y2="389.6" stroke="#c2c2c2" stroke-width="1"/>
<line x1="90.3" y1="389.6" x2="933.7" y2="389.6" stroke="#c2c2c2" stroke-width="1"/>
<line x1="84.3" y1="389.60" x2="90.3" y2="389.60" stroke="#c2c2c2" stroke-width="0.8"/>
<line x1="86.3" y1="386.19" x2="90.3" y2="386.19" stroke="#c2c2c2" stroke-width="0.8"/>
<line x1="86.3" y1="382.78" x2="90.3" y2="382.78" stroke="#c2c2c2" stroke-width="0.8"/>
<line x1="86.3" y1="379.37" x2="90.3" y2="379.37" stroke="#c2c2c2" stroke-width="0.8"/>
<line x1="86.3" y1="375.96" x2="90.3" y2="375.96" stroke="#c2c2c2" stroke-width="0.8"/>
<line x1="84.3" y1="372.55" x2="90.3" y2="372.55" stroke="#c2c2c2" stroke-width="0.8"/>
<line x1="86.3" y1="369.14" x2="90.3" y2="369.14" stroke="#c2c2c2" stroke-width="0.8"/>
<line x1="86.3" y1="365.73" x2="90.3" y2="365.73" stroke="#c2c2c2" stroke-width="0.8"/>
<line x1="86.3" y1="362.32" x2="90.3" y2="362.32" stroke="#c2c2c2" stroke-width="0.8"/>
<line x1="86.3" y1="358.91" x2="90.3" y2="358.91" stroke="#c2c2c2" stroke-width="0.8"/>
<line x1="84.3" y1="355.50" x2="90.3" y2="355.50" stroke="#c2c2c2" stroke-width="0.8"/>
<line x1="86.3" y1="352.09" x2="90.3" y2="352.09" stroke="#c2c2c2" stroke-width="0.8"/>
<line x1="86.3" y1="348.68" x2="90.3" y2="348.68" stroke="#c2c2c2" stroke-width="0.8"/>
<line x1="86.3" y1="345.27" x2="90.3" y2="345.27" stroke="#c2c2c2" stroke-width="0.8"/>
<line x1="86.3" y1="341.86" x2="90.3" y2="341.86" stroke="#c2c2c2" stroke-width="0.8"/>
<line x1="84.3" y1="338.45" x2="90.3" y2="338.45" stroke="#c2c2c2" stroke-width="0.8"/>
<line x1="86.3" y1="335.04" x2="90.3" y2="335.04" stroke="#c2c2c2" stroke-width="0.8"/>
<line x1="86.3" y1="331.63" x2="90.3" y2="331.63" stroke="#c2c2c2" stroke-width="0.8"/>
<line x1="86.3" y1="328.22" x2="90.3" y2="328.22" stroke="#c2c2c2" stroke-width="0.8"/>
<line x1="86.3" y1="324.81" x2="90.3" y2="324.81" stroke="#c2c2c2" stroke-width="0.8"/>
<line x1="84.3" y1="321.40" x2="90.3" y2="321.40" stroke="#c2c2c2" stroke-width="0.8"/>
<line x1="90.30" y1="389.6" x2="90.30" y2="396" stroke="#c2c2c2" stroke-width="0.8"/>
<line x1="99.57" y1="389.6" x2="99.57" y2="396" stroke="#c2c2c2" stroke-width="0.8"/>
<line x1="108.84" y1="389.6" x2="108.84" y2="396" stroke="#c2c2c2" stroke-width="0.8"/>
<line x1="118.10" y1="389.6" x2="118.10" y2="396" stroke="#c2c2c2" stroke-width="0.8"/>
<line x1="127.37" y1="389.6" x2="127.37" y2="396" stroke="#c2c2c2" stroke-width="0.8"/>
<line x1="136.64" y1="389.6" x2="136.64" y2="396" stroke="#c2c2c2" stroke-width="0.8"/>
<line x1="145.91" y1="389.6" x2="145.91" y2="396" stroke="#c2c2c2" stroke-width="0.8"/>
<line x1="155.18" y1="389.6" x2="155.18" y2="396" stroke="#c2c2c2" stroke-width="0.8"/>
<line x1="164.44" y1="389.6" x2="164.44" y2="396" stroke="#c2c2c2" stroke-width="0.8"/>
<line x1="173.71" y1="389.6" x2="173.71" y2="396" stroke="#c2c2c2" stroke-width="0.8"/>
<line x1="182.98" y1="389.6" x2="182.98" y2="396" stroke="#c2c2c2" stroke-width="0.8"/>
<line x1="192.25" y1="389.6" x2="192.25" y2="396" stroke="#c2c2c2" stroke-width="0.8"/>
<line x1="201.52" y1="389.6" x2="201.52" y2="396" stroke="#c2c2c2" stroke-width="0.8"/>
<line x1="210.78" y1="389.6" x2="210.78" y2="396" stroke="#c2c2c2" stroke-width="0.8"/>
<line x1="220.05" y1="389.6" x2="220.05" y2="396" stroke="#c2c2c2" stroke-width="0.8"/>
<line x1="229.32" y1="389.6" x2="229.32" y2="396" stroke="#c2c2c2" stroke-width="0.8"/>
<line x1="238.59" y1="389.6" x2="238.59" y2="396" stroke="#c2c2c2" stroke-width="0.8"/>
<line x1="247.86" y1="389.6" x2="247.86" y2="396" stroke="#c2c2c2" stroke-width="0.8"/>
<line x1="257.12" y1="389.6" x2="257.12" y2="396" stroke="#c2c2c2" stroke-width="0.8"/>
<line x1="266.39" y1="389.6" x2="266.39" y2="396" stroke="#c2c2c2" stroke-width="0.8"/>
<line x1="275.66" y1="389.6" x2="275.66" y2="396" stroke="#c2c2c2" stroke-width="0.8"/>
<line x1="284.93" y1="389.6" x2="284.93" y2="396" stroke="#c2c2c2" stroke-width="0.8"/>
<line x1="294.20" y1="389.6" x2="294.20" y2="396" stroke="#c2c2c2" stroke-width="0.8"/>
<line x1="303.46" y1="389.6" x2="303.46" y2="396" stroke="#c2c2c2" stroke-width="0.8"/>
<line x1="312.73" y1="389.6" x2="312.73" y2="396" stroke="#c2c2c2" stroke-width="0.8"/>
<line x1="322.00" y1="389.6" x2="322.00" y2="396" stroke="#c2c2c2" stroke-width="0.8"/>
<line x1="331.27" y1="389.6" x2="331.27" y2="396" stroke="#c2c2c2" stroke-width="0.8"/>
<line x1="340.54" y1="389.6" x2="340.54" y2="396" stroke="#c2c2c2" stroke-width="0.8"/>
<line x1="349.80" y1="389.6" x2="349.80" y2="396" stroke="#c2c2c2" stroke-width="0.8"/>
<line x1="359.07" y1="389.6" x2="359.07" y2="396" stroke="#c2c2c2" stroke-width="0.8"/>
<line x1="368.34" y1="389.6" x2="368.34" y2="396" stroke="#c2c2c2" stroke-width="0.8"/>
<line x1="377.61" y1="389.6" x2="377.61" y2="396" stroke="#c2c2c2" stroke-width="0.8"/>
<line x1="386.88" y1="389.6" x2="386.88" y2="396" stroke="#c2c2c2" stroke-width="0.8"/>
<line x1="396.14" y1="389.6" x2="396.14" y2="396" stroke="#c2c2c2" stroke-width="0.8"/>
<line x1="405.41" y1="389.6" x2="405.41" y2="396" stroke="#c2c2c2" stroke-width="0.8"/>
<line x1="414.68" y1="389.6" x2="414.68" y2="396" stroke="#c2c2c2" stroke-width="0.8"/>
<line x1="423.95" y1="389.6" x2="423.95" y2="396" stroke="#c2c2c2" stroke-width="0.8"/>
<line x1="433.22" y1="389.6" x2="433.22" y2="396" stroke="#c2c2c2" stroke-width="0.8"/>
<line x1="442.48" y1="389.6" x2="442.48" y2="396" stroke="#c2c2c2" stroke-width="0.8"/>
<line x1="451.75" y1="389.6" x2="451.75" y2="396" stroke="#c2c2c2" stroke-width="0.8"/>
<line x1="461.02" y1="389.6" x2="461.02" y2="396" stroke="#c2c2c2" stroke-width="0.8"/>
<line x1="470.29" y1="389.6" x2="470.29" y2="396" stroke="#c2c2c2" stroke-width="0.8"/>
<line x1="479.56" y1="389.6" x2="479.56" y2="396" stroke="#c2c2c2" stroke-width="0.8"/>
<line x1="488.82" y1="389.6" x2="488.82" y2="396" stroke="#c2c2c2" stroke-width="0.8"/>
<line x1="498.09" y1="389.6" x2="498.09" y2="396" stroke="#c2c2c2" stroke-width="0.8"/>
<line x1="507.36" y1="389.6" x2="507.36" y2="396" stroke="#c2c2c2" stroke-width="0.8"/>
<line x1="516.63" y1="389.6" x2="516.63" y2="396" stroke="#c2c2c2" stroke-width="0.8"/>
<line x1="525.90" y1="389.6" x2="525.90" y2="396" stroke="#c2c2c2" stroke-width="0.8"/>
<line x1="535.16" y1="389.6" x2="535.16" y2="396" stroke="#c2c2c2" stroke-width="0.8"/>
<line x1="544.43" y1="389.6" x2="544.43" y2="396" stroke="#c2c2c2" stroke-width="0.8"/>
<line x1="553.70" y1="389.6" x2="553.70" y2="396" stroke="#c2c2c2" stroke-width="0.8"/>
<line x1="562.97" y1="389.6" x2="562.97" y2="396" stroke="#c2c2c2" stroke-width="0.8"/>
<line x1="572.24" y1="389.6" x2="572.24" y2="396" stroke="#c2c2c2" stroke-width="0.8"/>
<line x1="581.50" y1="389.6" x2="581.50" y2="396" stroke="#c2c2c2" stroke-width="0.8"/>
<line x1="590.77" y1="389.6" x2="590.77" y2="396" stroke="#c2c2c2" stroke-width="0.8"/>
<line x1="600.04" y1="389.6" x2="600.04" y2="396" stroke="#c2c2c2" stroke-width="0.8"/>
<line x1="609.31" y1="389.6" x2="609.31" y2="396" stroke="#c2c2c2" stroke-width="0.8"/>
<line x1="618.58" y1="389.6" x2="618.58" y2="396" stroke="#c2c2c2" stroke-width="0.8"/>
<line x1="627.84" y1="389.6" x2="627.84" y2="396" stroke="#c2c2c2" stroke-width="0.8"/>
<line x1="637.11" y1="389.6" x2="637.11" y2="396" stroke="#c2c2c2" stroke-width="0.8"/>
<line x1="646.38" y1="389.6" x2="646.38" y2="396" stroke="#c2c2c2" stroke-width="0.8"/>
<line x1="655.65" y1="389.6" x2="655.65" y2="396" stroke="#c2c2c2" stroke-width="0.8"/>
<line x1="664.92" y1="389.6" x2="664.92" y2="396" stroke="#c2c2c2" stroke-width="0.8"/>
<line x1="674.18" y1="389.6" x2="674.18" y2="396" stroke="#c2c2c2" stroke-width="0.8"/>
<line x1="683.45" y1="389.6" x2="683.45" y2="396" stroke="#c2c2c2" stroke-width="0.8"/>
<line x1="692.72" y1="389.6" x2="692.72" y2="396" stroke="#c2c2c2" stroke-width="0.8"/>
<line x1="701.99" y1="389.6" x2="701.99" y2="396" stroke="#c2c2c2" stroke-width="0.8"/>
<line x1="711.26" y1="389.6" x2="711.26" y2="396" stroke="#c2c2c2" stroke-width="0.8"/>
<line x1="720.52" y1="389.6" x2="720.52" y2="396" stroke="#c2c2c2" stroke-width="0.8"/>
<line x1="729.79" y1="389.6" x2="729.79" y2="396" stroke="#c2c2c2" stroke-width="0.8"/>
<line x1="739.06" y1="389.6" x2="739.06" y2="396" stroke="#c2c2c2" stroke-width="0.8"/>
<line x1="748.33" y1="389.6" x2="748.33" y2="396" stroke="#c2c2c2" stroke-width="0.8"/>
<line x1="757.60" y1="389.6" x2="757.60" y2="396" stroke="#c2c2c2" stroke-width="0.8"/>
<line x1="766.86" y1="389.6" x2="766.86" y2="396" stroke="#c2c2c2" stroke-width="0.8"/>
<line x1="776.13" y1="389.6" x2="776.13" y2="396" stroke="#c2c2c2" stroke-width="0.8"/>
<line x1="785.40" y1="389.6" x2="785.40" y2="396" stroke="#c2c2c2" stroke-width="0.8"/>
<line x1="794.67" y1="389.6" x2="794.67" y2="396" stroke="#c2c2c2" stroke-width="0.8"/>
<line x1="803.94" y1="389.6" x2="803.94" y2="396" stroke="#c2c2c2" stroke-width="0.8"/>
<line x1="813.20" y1="389.6" x2="813.20" y2="396" stroke="#c2c2c2" stroke-width="0.8"/>
<line x1="822.47" y1="389.6" x2="822.47" y2="396" stroke="#c2c2c2" stroke-width="0.8"/>
<line x1="831.74" y1="389.6" x2="831.74" y2="396" stroke="#c2c2c2" stroke-width="0.8"/>
<line x1="841.01" y1="389.6" x2="841.01" y2="396" stroke="#c2c2c2" stroke-width="0.8"/>
<line x1="850.28" y1="389.6" x2="850.28" y2="396" stroke="#c2c2c2" stroke-width="0.8"/>
<line x1="859.54" y1="389.6" x2="859.54" y2="396" stroke="#c2c2c2" stroke-width="0.8"/>
<line x1="868.81" y1="389.6" x2="868.81" y2="396" stroke="#c2c2c2" stroke-width="0.8"/>
<line x1="878.08" y1="389.6" x2="878.08" y2="396" stroke="#c2c2c2" stroke-width="0.8"/>
<line x1="887.35" y1="389.6" x2="887.35" y2="396" stroke="#c2c2c2" stroke-width="0.8"/>
<line x1="896.62" y1="389.6" x2="896.62" y2="396" stroke="#c2c2c2" stroke-width="0.8"/>
<line x1="905.88" y1="389.6" x2="905.88" y2="396" stroke="#c2c2c2" stroke-width="0.8"/>
<line x1="915.15" y1="389.6" x2="915.15" y2="396" stroke="#c2c2c2" stroke-width="0.8"/>
<line x1="924.42" y1="389.6" x2="924.42" y2="396" stroke="#c2c2c2" stroke-width="0.8"/>
<line x1="933.69" y1="389.6" x2="933.69" y2="396" stroke="#c2c2c2" stroke-width="0.8"/>
<text x="82.00" y="392.60" font-size="8.6" fill="#9e9e9e" textLength="16.5" lengthAdjust="spacingAndGlyphs" text-anchor="end">0.00</text>
<text x="82.00" y="375.55" font-size="8.6" fill="#9e9e9e" textLength="16.5" lengthAdjust="spacingAndGlyphs" text-anchor="end">2.50</text>
<text x="82.00" y="358.50" font-size="8.6" fill="#9e9e9e" textLength="16.5" lengthAdjust="spacingAndGlyphs" text-anchor="end">5.00</text>
<text x="82.00" y="341.45" font-size="8.6" fill="#9e9e9e" textLength="16.5" lengthAdjust="spacingAndGlyphs" text-anchor="end">7.50</text>
<text x="82.00" y="324.40" font-size="8.6" fill="#9e9e9e" textLength="19.7" lengthAdjust="spacingAndGlyphs" text-anchor="end">10.00</text>
<text x="90.30" y="406.00" font-size="8.6" fill="#a0a0a0" textLength="43.4" lengthAdjust="spacingAndGlyphs" text-anchor="middle">Oct 22, 2018</text>
<text x="201.52" y="406.00" font-size="8.6" fill="#a0a0a0" textLength="44.5" lengthAdjust="spacingAndGlyphs" text-anchor="middle">Jan 14, 2019</text>
<text x="312.73" y="406.00" font-size="8.6" fill="#a0a0a0" textLength="41.0" lengthAdjust="spacingAndGlyphs" text-anchor="middle">Apr 8, 2019</text>
<text x="423.95" y="406.00" font-size="8.6" fill="#a0a0a0" textLength="35.5" lengthAdjust="spacingAndGlyphs" text-anchor="middle">Jul 1, 2019</text>
<text x="535.16" y="406.00" font-size="8.6" fill="#a0a0a0" textLength="46.0" lengthAdjust="spacingAndGlyphs" text-anchor="middle">Sep 23, 2019</text>
<text x="646.38" y="406.00" font-size="8.6" fill="#a0a0a0" textLength="45.0" lengthAdjust="spacingAndGlyphs" text-anchor="middle">Dec 16, 2019</text>
<text x="757.60" y="406.00" font-size="8.6" fill="#a0a0a0" textLength="42.5" lengthAdjust="spacingAndGlyphs" text-anchor="middle">Mar 9, 2020</text>
<text x="868.81" y="406.00" font-size="8.6" fill="#a0a0a0" textLength="40.0" lengthAdjust="spacingAndGlyphs" text-anchor="middle">Jun 1, 2020</text>
<text x="0" y="0" font-size="9.6" fill="#3c3c3c" stroke="#3c3c3c" stroke-width="0.05" text-anchor="middle" textLength="60" lengthAdjust="spacingAndGlyphs" transform="translate(55 355) rotate(-90)">Volume in BTC</text>
<rect x="96.67" y="367.50" width="5.80" height="21.60" fill="#b4e6bd"/>
<rect x="105.94" y="366.70" width="5.80" height="22.40" fill="#b4e6bd"/>
<rect x="115.20" y="362.50" width="5.80" height="26.60" fill="#b4e6bd"/>
<rect x="124.47" y="349.20" width="5.80" height="39.90" fill="#b4e6bd"/>
<rect x="133.74" y="372.50" width="5.80" height="16.60" fill="#b4e6bd"/>
<rect x="143.01" y="353.00" width="5.80" height="36.10" fill="#b4e6bd"/>
<rect x="152.28" y="360.80" width="5.80" height="28.30" fill="#b4e6bd"/>
<rect x="161.54" y="352.50" width="5.80" height="36.60" fill="#b4e6bd"/>
<rect x="170.81" y="349.70" width="5.80" height="39.40" fill="#b4e6bd"/>
<rect x="180.08" y="352.00" width="5.80" height="37.10" fill="#b4e6bd"/>
<rect x="189.35" y="358.70" width="5.80" height="30.40" fill="#b4e6bd"/>
<rect x="198.62" y="349.20" width="5.80" height="39.90" fill="#b4e6bd"/>
<rect x="207.88" y="346.70" width="5.80" height="42.40" fill="#b4e6bd"/>
<rect x="217.15" y="337.00" width="5.80" height="52.10" fill="#b4e6bd"/>
<rect x="226.42" y="354.20" width="5.80" height="34.90" fill="#b4e6bd"/>
<rect x="235.69" y="355.00" width="5.80" height="34.10" fill="#b4e6bd"/>
<rect x="244.96" y="352.00" width="5.80" height="37.10" fill="#b4e6bd"/>
<rect x="254.22" y="328.00" width="5.80" height="61.10" fill="#b4e6bd"/>
<rect x="263.49" y="350.00" width="5.80" height="39.10" fill="#b4e6bd"/>
<rect x="272.76" y="353.00" width="5.80" height="36.10" fill="#b4e6bd"/>
<rect x="282.03" y="337.00" width="5.80" height="52.10" fill="#b4e6bd"/>
<rect x="291.30" y="347.20" width="5.80" height="41.90" fill="#b4e6bd"/>
<rect x="300.56" y="352.50" width="5.80" height="36.60" fill="#b4e6bd"/>
<rect x="309.83" y="360.00" width="5.80" height="29.10" fill="#b4e6bd"/>
<rect x="319.10" y="350.00" width="5.80" height="39.10" fill="#b4e6bd"/>
<rect x="328.37" y="356.30" width="5.80" height="32.80" fill="#b4e6bd"/>
<rect x="337.64" y="368.00" width="5.80" height="21.10" fill="#b4e6bd"/>
<rect x="346.90" y="359.20" width="5.80" height="29.90" fill="#b4e6bd"/>
<rect x="356.17" y="368.00" width="5.80" height="21.10" fill="#b4e6bd"/>
<rect x="365.44" y="373.00" width="5.80" height="16.10" fill="#b4e6bd"/>
<rect x="374.71" y="377.00" width="5.80" height="12.10" fill="#b4e6bd"/>
<rect x="383.98" y="370.00" width="5.80" height="19.10" fill="#b4e6bd"/>
<rect x="393.24" y="366.20" width="5.80" height="22.90" fill="#b4e6bd"/>
<rect x="402.51" y="371.30" width="5.80" height="17.80" fill="#b4e6bd"/>
<rect x="411.78" y="370.00" width="5.80" height="19.10" fill="#b4e6bd"/>
<rect x="421.05" y="377.50" width="5.80" height="11.60" fill="#b4e6bd"/>
<rect x="430.32" y="372.00" width="5.80" height="17.10" fill="#b4e6bd"/>
<rect x="439.58" y="377.50" width="5.80" height="11.60" fill="#b4e6bd"/>
<rect x="448.85" y="378.00" width="5.80" height="11.10" fill="#b4e6bd"/>
<rect x="458.12" y="373.00" width="5.80" height="16.10" fill="#b4e6bd"/>
<rect x="467.39" y="362.20" width="5.80" height="26.90" fill="#b4e6bd"/>
<rect x="476.66" y="368.30" width="5.80" height="20.80" fill="#b4e6bd"/>
<rect x="485.92" y="367.50" width="5.80" height="21.60" fill="#b4e6bd"/>
<rect x="495.19" y="376.30" width="5.80" height="12.80" fill="#b4e6bd"/>
<rect x="504.46" y="373.00" width="5.80" height="16.10" fill="#b4e6bd"/>
<rect x="513.73" y="372.00" width="5.80" height="17.10" fill="#b4e6bd"/>
<rect x="523.00" y="370.00" width="5.80" height="19.10" fill="#b4e6bd"/>
<rect x="532.26" y="366.70" width="5.80" height="22.40" fill="#b4e6bd"/>
<rect x="541.53" y="362.20" width="5.80" height="26.90" fill="#b4e6bd"/>
<rect x="550.80" y="363.30" width="5.80" height="25.80" fill="#b4e6bd"/>
<rect x="560.07" y="370.00" width="5.80" height="19.10" fill="#b4e6bd"/>
<rect x="569.34" y="368.70" width="5.80" height="20.40" fill="#b4e6bd"/>
<rect x="578.60" y="380.80" width="5.80" height="8.30" fill="#b4e6bd"/>
<rect x="587.87" y="371.70" width="5.80" height="17.40" fill="#b4e6bd"/>
<rect x="597.14" y="360.30" width="5.80" height="28.80" fill="#b4e6bd"/>
<rect x="606.41" y="360.00" width="5.80" height="29.10" fill="#b4e6bd"/>
<rect x="615.68" y="375.00" width="5.80" height="14.10" fill="#b4e6bd"/>
<rect x="624.94" y="365.00" width="5.80" height="24.10" fill="#b4e6bd"/>
<rect x="634.21" y="367.50" width="5.80" height="21.60" fill="#b4e6bd"/>
<rect x="643.48" y="365.30" width="5.80" height="23.80" fill="#b4e6bd"/>
<rect x="652.75" y="372.00" width="5.80" height="17.10" fill="#b4e6bd"/>
<rect x="662.02" y="362.20" width="5.80" height="26.90" fill="#b4e6bd"/>
<rect x="671.28" y="365.00" width="5.80" height="24.10" fill="#b4e6bd"/>
<rect x="680.55" y="367.50" width="5.80" height="21.60" fill="#b4e6bd"/>
<rect x="689.82" y="358.70" width="5.80" height="30.40" fill="#b4e6bd"/>
<rect x="699.09" y="364.20" width="5.80" height="24.90" fill="#b4e6bd"/>
<rect x="708.36" y="365.00" width="5.80" height="24.10" fill="#b4e6bd"/>
<rect x="717.62" y="362.20" width="5.80" height="26.90" fill="#b4e6bd"/>
<rect x="726.89" y="355.00" width="5.80" height="34.10" fill="#b4e6bd"/>
<rect x="736.16" y="343.30" width="5.80" height="45.80" fill="#b4e6bd"/>
<rect x="745.43" y="348.00" width="5.80" height="41.10" fill="#b4e6bd"/>
<rect x="754.70" y="340.80" width="5.80" height="48.30" fill="#b4e6bd"/>
<rect x="763.96" y="330.00" width="5.80" height="59.10" fill="#b4e6bd"/>
<rect x="773.23" y="352.00" width="5.80" height="37.10" fill="#b4e6bd"/>
<rect x="782.50" y="353.00" width="5.80" height="36.10" fill="#b4e6bd"/>
<rect x="791.77" y="367.00" width="5.80" height="22.10" fill="#b4e6bd"/>
<rect x="801.04" y="361.00" width="5.80" height="28.10" fill="#b4e6bd"/>
<rect x="810.30" y="359.50" width="5.80" height="29.60" fill="#b4e6bd"/>
<rect x="819.57" y="346.40" width="5.80" height="42.70" fill="#b4e6bd"/>
<rect x="828.84" y="344.10" width="5.80" height="45.00" fill="#b4e6bd"/>
<rect x="838.11" y="355.80" width="5.80" height="33.30" fill="#b4e6bd"/>
<rect x="847.38" y="363.70" width="5.80" height="25.40" fill="#b4e6bd"/>
<rect x="856.64" y="357.70" width="5.80" height="31.40" fill="#b4e6bd"/>
<rect x="865.91" y="352.60" width="5.80" height="36.50" fill="#b4e6bd"/>
<rect x="875.18" y="332.60" width="5.80" height="56.50" fill="#b4e6bd"/>
<rect x="884.45" y="345.50" width="5.80" height="43.60" fill="#b4e6bd"/>
<rect x="893.72" y="336.50" width="5.80" height="52.60" fill="#b4e6bd"/>
<rect x="902.98" y="349.80" width="5.80" height="39.30" fill="#b4e6bd"/>
<rect x="912.25" y="340.50" width="5.80" height="48.60" fill="#b4e6bd"/>
<rect x="921.52" y="378.30" width="5.80" height="10.80" fill="#b4e6bd"/>
<rect x="12.50" y="428.50" width="935.30" height="143.30" fill="#ffffff"/>
<rect x="12.50" y="428.50" width="935.30" height="22.00" fill="#f7f7f7"/>
<rect x="12.50" y="428.20" width="935.30" height="0.80" fill="#ececec"/>
<text x="21.75" y="443.60" font-size="9.8" fill="#383838" textLength="44.5" lengthAdjust="spacingAndGlyphs" stroke="#383838" stroke-width="0.2">Date/Time</text>
<path d="M188.1 437.4 L194.7 437.4 L191.4 442.5 Z" fill="#505050"/>
<text x="205.75" y="443.60" font-size="9.8" fill="#383838" textLength="94.2" lengthAdjust="spacingAndGlyphs" stroke="#383838" stroke-width="0.2">Price in USD for 1 BTC</text>
<text x="352.50" y="443.60" font-size="9.8" fill="#383838" textLength="64.0" lengthAdjust="spacingAndGlyphs" stroke="#383838" stroke-width="0.2">Amount in BTC</text>
<text x="499.70" y="443.60" font-size="9.8" fill="#383838" textLength="64.7" lengthAdjust="spacingAndGlyphs" stroke="#383838" stroke-width="0.2">Amount in USD</text>
<text x="646.25" y="443.60" font-size="9.8" fill="#383838" textLength="73.5" lengthAdjust="spacingAndGlyphs" stroke="#383838" stroke-width="0.2">Payment method</text>
<text x="931.20" y="443.60" font-size="9.8" fill="#383838" textLength="42.8" lengthAdjust="spacingAndGlyphs" text-anchor="end" stroke="#383838" stroke-width="0.2">Offer type</text>
<text x="22.00" y="461.60" font-size="11.0" fill="#2a2a2a" textLength="122.2" lengthAdjust="spacingAndGlyphs" stroke="#2a2a2a" stroke-width="0.3">Jul 13, 2020 12:32:48 PM</text>
<text x="206.25" y="461.60" font-size="11.0" fill="#2a2a2a" textLength="52.0" lengthAdjust="spacingAndGlyphs" stroke="#2a2a2a" stroke-width="0.3">9760.2330</text>
<text x="353.25" y="461.6" font-size="11.0" fill="#484848" stroke="#484848" stroke-width="0.25">0.125<tspan fill="#cdcdcd" stroke="#cdcdcd" stroke-width="0.1">0</tspan></text>
<text x="500.30" y="461.60" font-size="11.0" fill="#2a2a2a" stroke="#2a2a2a" stroke-width="0.3">1220</text>
<text x="647.20" y="461.60" font-size="11.0" fill="#2a2a2a" textLength="106.8" lengthAdjust="spacingAndGlyphs" stroke="#2a2a2a" stroke-width="0.3">US Postal Money Order</text>
<text x="930.90" y="461.60" font-size="11.0" fill="#2a2a2a" textLength="39.5" lengthAdjust="spacingAndGlyphs" text-anchor="end" stroke="#2a2a2a" stroke-width="0.3">Buy BTC</text>
<rect x="12.50" y="468.70" width="927.00" height="20.00" fill="#f0f0f0"/>
<text x="22.00" y="481.60" font-size="11.0" fill="#2a2a2a" textLength="122.2" lengthAdjust="spacingAndGlyphs" stroke="#2a2a2a" stroke-width="0.3">Jul 13, 2020 12:31:13 PM</text>
<text x="206.25" y="481.60" font-size="11.0" fill="#2a2a2a" textLength="52.0" lengthAdjust="spacingAndGlyphs" stroke="#2a2a2a" stroke-width="0.3">9761.1150</text>
<text x="353.25" y="481.6" font-size="11.0" fill="#484848" stroke="#484848" stroke-width="0.25">0.125<tspan fill="#cdcdcd" stroke="#cdcdcd" stroke-width="0.1">0</tspan></text>
<text x="500.30" y="481.60" font-size="11.0" fill="#2a2a2a" stroke="#2a2a2a" stroke-width="0.3">1220</text>
<text x="647.20" y="481.60" font-size="11.0" fill="#2a2a2a" textLength="106.8" lengthAdjust="spacingAndGlyphs" stroke="#2a2a2a" stroke-width="0.3">US Postal Money Order</text>
<text x="930.90" y="481.60" font-size="11.0" fill="#2a2a2a" textLength="39.5" lengthAdjust="spacingAndGlyphs" text-anchor="end" stroke="#2a2a2a" stroke-width="0.3">Buy BTC</text>
<text x="22.00" y="501.60" font-size="11.0" fill="#2a2a2a" textLength="122.2" lengthAdjust="spacingAndGlyphs" stroke="#2a2a2a" stroke-width="0.3">Jul 13, 2020 10:41:01 AM</text>
<text x="206.25" y="501.60" font-size="11.0" fill="#2a2a2a" textLength="52.0" lengthAdjust="spacingAndGlyphs" stroke="#2a2a2a" stroke-width="0.3">9694.6512</text>
<text x="353.25" y="501.6" font-size="11.0" fill="#484848" stroke="#484848" stroke-width="0.25">0.125<tspan fill="#cdcdcd" stroke="#cdcdcd" stroke-width="0.1">0</tspan></text>
<text x="500.30" y="501.60" font-size="11.0" fill="#2a2a2a" stroke="#2a2a2a" stroke-width="0.3">1212</text>
<text x="647.20" y="501.60" font-size="11.0" fill="#2a2a2a" textLength="96.2" lengthAdjust="spacingAndGlyphs" stroke="#2a2a2a" stroke-width="0.3">Zelle (ClearXchange)</text>
<text x="930.90" y="501.60" font-size="11.0" fill="#2a2a2a" textLength="39.5" lengthAdjust="spacingAndGlyphs" text-anchor="end" stroke="#2a2a2a" stroke-width="0.3">Buy BTC</text>
<rect x="12.50" y="508.70" width="927.00" height="20.00" fill="#f0f0f0"/>
<text x="22.00" y="521.60" font-size="11.0" fill="#2a2a2a" textLength="122.2" lengthAdjust="spacingAndGlyphs" stroke="#2a2a2a" stroke-width="0.3">Jul 13, 2020 10:14:40 AM</text>
<text x="206.25" y="521.60" font-size="11.0" fill="#2a2a2a" textLength="52.0" lengthAdjust="spacingAndGlyphs" stroke="#2a2a2a" stroke-width="0.3">9789.7800</text>
<text x="353.25" y="521.6" font-size="11.0" fill="#484848" stroke="#484848" stroke-width="0.25">0.0625<tspan fill="#cdcdcd" stroke="#cdcdcd" stroke-width="0.1"></tspan></text>
<text x="500.30" y="521.60" font-size="11.0" fill="#2a2a2a" stroke="#2a2a2a" stroke-width="0.3">612</text>
<text x="647.20" y="521.60" font-size="11.0" fill="#2a2a2a" textLength="106.8" lengthAdjust="spacingAndGlyphs" stroke="#2a2a2a" stroke-width="0.3">US Postal Money Order</text>
<text x="930.90" y="521.60" font-size="11.0" fill="#2a2a2a" textLength="39.5" lengthAdjust="spacingAndGlyphs" text-anchor="end" stroke="#2a2a2a" stroke-width="0.3">Buy BTC</text>
<text x="22.00" y="541.60" font-size="11.0" fill="#2a2a2a" textLength="122.2" lengthAdjust="spacingAndGlyphs" stroke="#2a2a2a" stroke-width="0.3">Jul 13, 2020 10:12:51 AM</text>
<text x="206.25" y="541.60" font-size="11.0" fill="#2a2a2a" textLength="52.0" lengthAdjust="spacingAndGlyphs" stroke="#2a2a2a" stroke-width="0.3">9783.4380</text>
<text x="353.25" y="541.6" font-size="11.0" fill="#484848" stroke="#484848" stroke-width="0.25">0.05<tspan fill="#cdcdcd" stroke="#cdcdcd" stroke-width="0.1">00</tspan></text>
<text x="500.30" y="541.60" font-size="11.0" fill="#2a2a2a" stroke="#2a2a2a" stroke-width="0.3">489</text>
<text x="647.20" y="541.60" font-size="11.0" fill="#2a2a2a" textLength="106.8" lengthAdjust="spacingAndGlyphs" stroke="#2a2a2a" stroke-width="0.3">US Postal Money Order</text>
<text x="930.90" y="541.60" font-size="11.0" fill="#2a2a2a" textLength="39.5" lengthAdjust="spacingAndGlyphs" text-anchor="end" stroke="#2a2a2a" stroke-width="0.3">Buy BTC</text>
<rect x="12.50" y="548.70" width="927.00" height="20.00" fill="#f0f0f0"/>
<text x="22.00" y="561.60" font-size="11.0" fill="#2a2a2a" textLength="122.2" lengthAdjust="spacingAndGlyphs" stroke="#2a2a2a" stroke-width="0.3">Jul 13, 2020 10:11:27 AM</text>
<text x="206.25" y="561.60" font-size="11.0" fill="#2a2a2a" textLength="52.0" lengthAdjust="spacingAndGlyphs" stroke="#2a2a2a" stroke-width="0.3">9780.8550</text>
<text x="353.25" y="561.6" font-size="11.0" fill="#484848" stroke="#484848" stroke-width="0.25">0.05<tspan fill="#cdcdcd" stroke="#cdcdcd" stroke-width="0.1">00</tspan></text>
<text x="500.30" y="561.60" font-size="11.0" fill="#2a2a2a" stroke="#2a2a2a" stroke-width="0.3">489</text>
<text x="647.20" y="561.60" font-size="11.0" fill="#2a2a2a" textLength="106.8" lengthAdjust="spacingAndGlyphs" stroke="#2a2a2a" stroke-width="0.3">US Postal Money Order</text>
<text x="930.90" y="561.60" font-size="11.0" fill="#2a2a2a" textLength="39.5" lengthAdjust="spacingAndGlyphs" text-anchor="end" stroke="#2a2a2a" stroke-width="0.3">Buy BTC</text>
<rect x="941.5" y="455.5" width="5.2" height="11.5" rx="1.6" fill="#cdcdcd"/>
<text x="16.50" y="584.70" font-size="10" fill="#464646" textLength="66.0" lengthAdjust="spacingAndGlyphs" stroke="#464646" stroke-width="0.3">Trades: 14,357</text></svg>
</body></html>
